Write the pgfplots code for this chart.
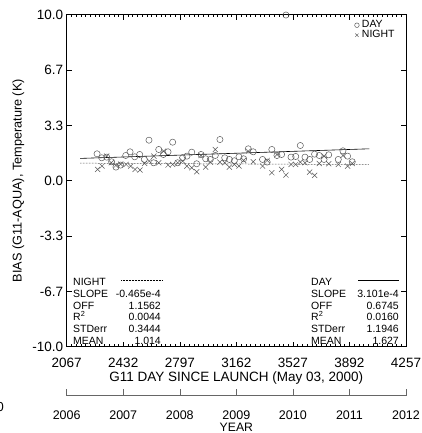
\documentclass[border=0pt]{standalone}
\usepackage{fontspec}
\setmainfont{Liberation Sans}
\usepackage{pgfplots}
\pgfplotsset{compat=1.18}
\begin{document}
\begin{tikzpicture}[x=1pt,y=1pt]
\useasboundingbox (0,0) rectangle (421,433);
\begin{axis}[
  at={(66.7pt,86.3pt)}, anchor=south west,
  scale only axis, width=339.3pt, height=332pt,
  xmin=2067, xmax=4257, ymin=-10, ymax=10,
  xtick={2067,2432,2797,3162,3527,3892,4257},
  minor x tick num=11,
  ytick={-10,-6.6667,-3.3333,0,3.3333,6.6667,10},
  yticklabels={-10.0,-6.7,-3.3,0.0,3.3,6.7,10.0},
  minor y tick num=1,
  tick align=inside, major tick length=5pt, minor tick length=2.5pt,
  tick style={black, line width=0.5pt},
  axis line style={line width=0.6pt},
  /pgf/number format/assume math mode=true,
  xticklabel style={/pgf/number format/1000 sep={}, font=\fontsize{13.5}{14}\selectfont, yshift=-8pt},
  yticklabel style={font=\fontsize{13.5}{14}\selectfont},
  xlabel={G11 DAY SINCE LAUNCH (May 03, 2000)},
  xlabel style={font=\fontsize{13.5}{15}\selectfont, at={(axis description cs:0.5,0)}, anchor=center, yshift=-31.6pt},
  ylabel={BIAS (G11-AQUA), Temperature (K)},
  ylabel style={font=\fontsize{12.7}{14}\selectfont, at={(axis description cs:-0.1426,0.5)}, anchor=center},
  legend style={at={(rel axis cs:0.848,0.984)}, anchor=north west, draw=none, fill=none,
    inner sep=0pt, column sep=2.7pt, row sep=0pt,
    font=\fontsize{10.5}{12}\selectfont,
    nodes={inner sep=0pt, text height=7.5pt, text depth=2.5pt}},
  legend cell align=left,
  legend image code/.code={\draw[#1, mark size=2.3pt] plot coordinates {(0pt,0pt)};},
]
\addplot[only marks, mark=o, mark size=3.1pt, black!65, mark options={line width=0.5pt}] coordinates {
(2263,1.62)(2293,1.38)(2325,1.42)(2357,1.14)(2385,0.82)(2415,0.94)(2448,1.52)(2476,1.74)
(2506,1.44)(2538,1.58)(2568,1.28)(2598,2.44)(2628,1.08)(2661,1.88)(2691,1.58)(2721,1.74)
(2751,2.32)(2783,1.08)(2815,1.38)(2843,1.48)(2874,1.72)(2906,1.02)(2934,1.58)(2964,1.32)
(2994,1.28)(3026,1.52)(3056,2.48)(3087,1.38)(3117,1.28)(3149,1.20)(3179,1.44)(3209,1.32)
(3239,1.92)(3271,1.74)(3331,1.28)(3361,1.12)(3391,1.88)(3424,1.52)(3454,1.58)(3482,9.98)
(3515,1.42)(3545,1.46)(3575,2.12)(3605,1.42)(3635,1.28)(3667,1.60)(3697,1.52)(3728,1.28)
(3758,1.56)(3820,1.28)(3850,1.80)(3880,1.48)(3910,1.14)
};
\addlegendentry{DAY}
\addplot[only marks, mark=x, mark size=3.6pt, black!65, mark options={line width=0.5pt}] coordinates {
(2267,0.68)(2295,0.88)(2325,1.48)(2355,1.08)(2385,0.92)(2415,1.00)(2450,0.98)(2480,0.88)
(2508,0.68)(2540,0.64)(2570,1.04)(2600,1.18)(2630,1.48)(2661,1.08)(2693,1.78)(2721,0.94)
(2751,0.98)(2783,1.08)(2815,1.18)(2843,0.88)(2874,0.78)(2906,0.54)(2934,1.52)(2964,0.82)
(2994,1.12)(3026,1.88)(3056,1.12)(3087,1.08)(3117,0.82)(3149,0.98)(3179,0.88)(3209,1.22)
(3239,1.78)(3271,1.14)(3331,0.88)(3361,1.22)(3391,0.48)(3424,1.58)(3454,0.68)(3482,0.34)
(3515,0.98)(3545,0.98)(3575,1.12)(3605,1.08)(3635,0.52)(3667,0.32)(3697,1.04)(3728,1.48)
(3758,1.02)(3820,0.98)(3850,1.52)(3880,0.88)(3910,1.04)
};
\addlegendentry{NIGHT}
\addplot[black, line width=0.6pt, forget plot] coordinates {(2153,1.3421)(4020,1.9211)};
\addplot[black, densely dotted, line width=0.5pt, forget plot] coordinates {(2153,1.0561)(4020,0.9693)};
\end{axis}
% year axis
\begin{axis}[
  at={(66.7pt,37.3pt)}, anchor=south west,
  scale only axis, width=339.3pt, height=10pt,
  xmin=2006, xmax=2012, ymin=0, ymax=1,
  axis y line=none, axis x line*=bottom,
  xtick={2006,2007,2008,2009,2010,2011,2012},
  tick align=inside, major tick length=7pt,
  axis line style={black!60, line width=0.6pt},
  tick style={black!60, line width=0.6pt},
  /pgf/number format/assume math mode=true,
  xticklabel style={/pgf/number format/1000 sep={}, font=\fontsize{12.5}{14}\selectfont, yshift=-11.5pt},
  xlabel={YEAR},
  xlabel style={font=\fontsize{12.2}{14}\selectfont, at={(axis description cs:0.5,0)}, anchor=center, yshift=-31.6pt},
]
\addplot[draw=none] coordinates {(2006,0)(2012,1)};
\end{axis}
% statistics blocks
\begin{scope}[every node/.style={font=\fontsize{10.5}{12}\selectfont, inner sep=0pt, text height=7.5pt, text depth=0pt}]
\node[anchor=west] at (73,151.3) {NIGHT};
\node[anchor=west] at (73,139.5) {SLOPE};
\node[anchor=west] at (73,127.7) {OFF};
\node[anchor=west] at (73,115.9) {R\textsuperscript{2}};
\node[anchor=west] at (73,104.1) {STDerr};
\node[anchor=west] at (73,92.3) {MEAN};
\node[anchor=east] at (161,139.5) {-0.465e-4};
\node[anchor=east] at (161,127.7) {1.1562};
\node[anchor=east] at (161,115.9) {0.0044};
\node[anchor=east] at (161,104.1) {0.3444};
\node[anchor=east] at (161,92.3) {1.014};
\draw[densely dotted, line width=0.5pt] (121,152.7) -- (162,152.7);
\node[anchor=west] at (311,151.3) {DAY};
\node[anchor=west] at (311,139.5) {SLOPE};
\node[anchor=west] at (311,127.7) {OFF};
\node[anchor=west] at (311,115.9) {R\textsuperscript{2}};
\node[anchor=west] at (311,104.1) {STDerr};
\node[anchor=west] at (311,92.3) {MEAN};
\node[anchor=east] at (399,139.5) {3.101e-4};
\node[anchor=east] at (399,127.7) {0.6745};
\node[anchor=east] at (399,115.9) {0.0160};
\node[anchor=east] at (399,104.1) {1.1946};
\node[anchor=east] at (399,92.3) {1.627};
\draw[line width=0.6pt] (358,152.5) -- (399,152.5);
\end{scope}
\node[anchor=east, inner sep=0pt, font=\fontsize{13}{14}\selectfont] at (4,26) {0};
\end{tikzpicture}
\end{document}
